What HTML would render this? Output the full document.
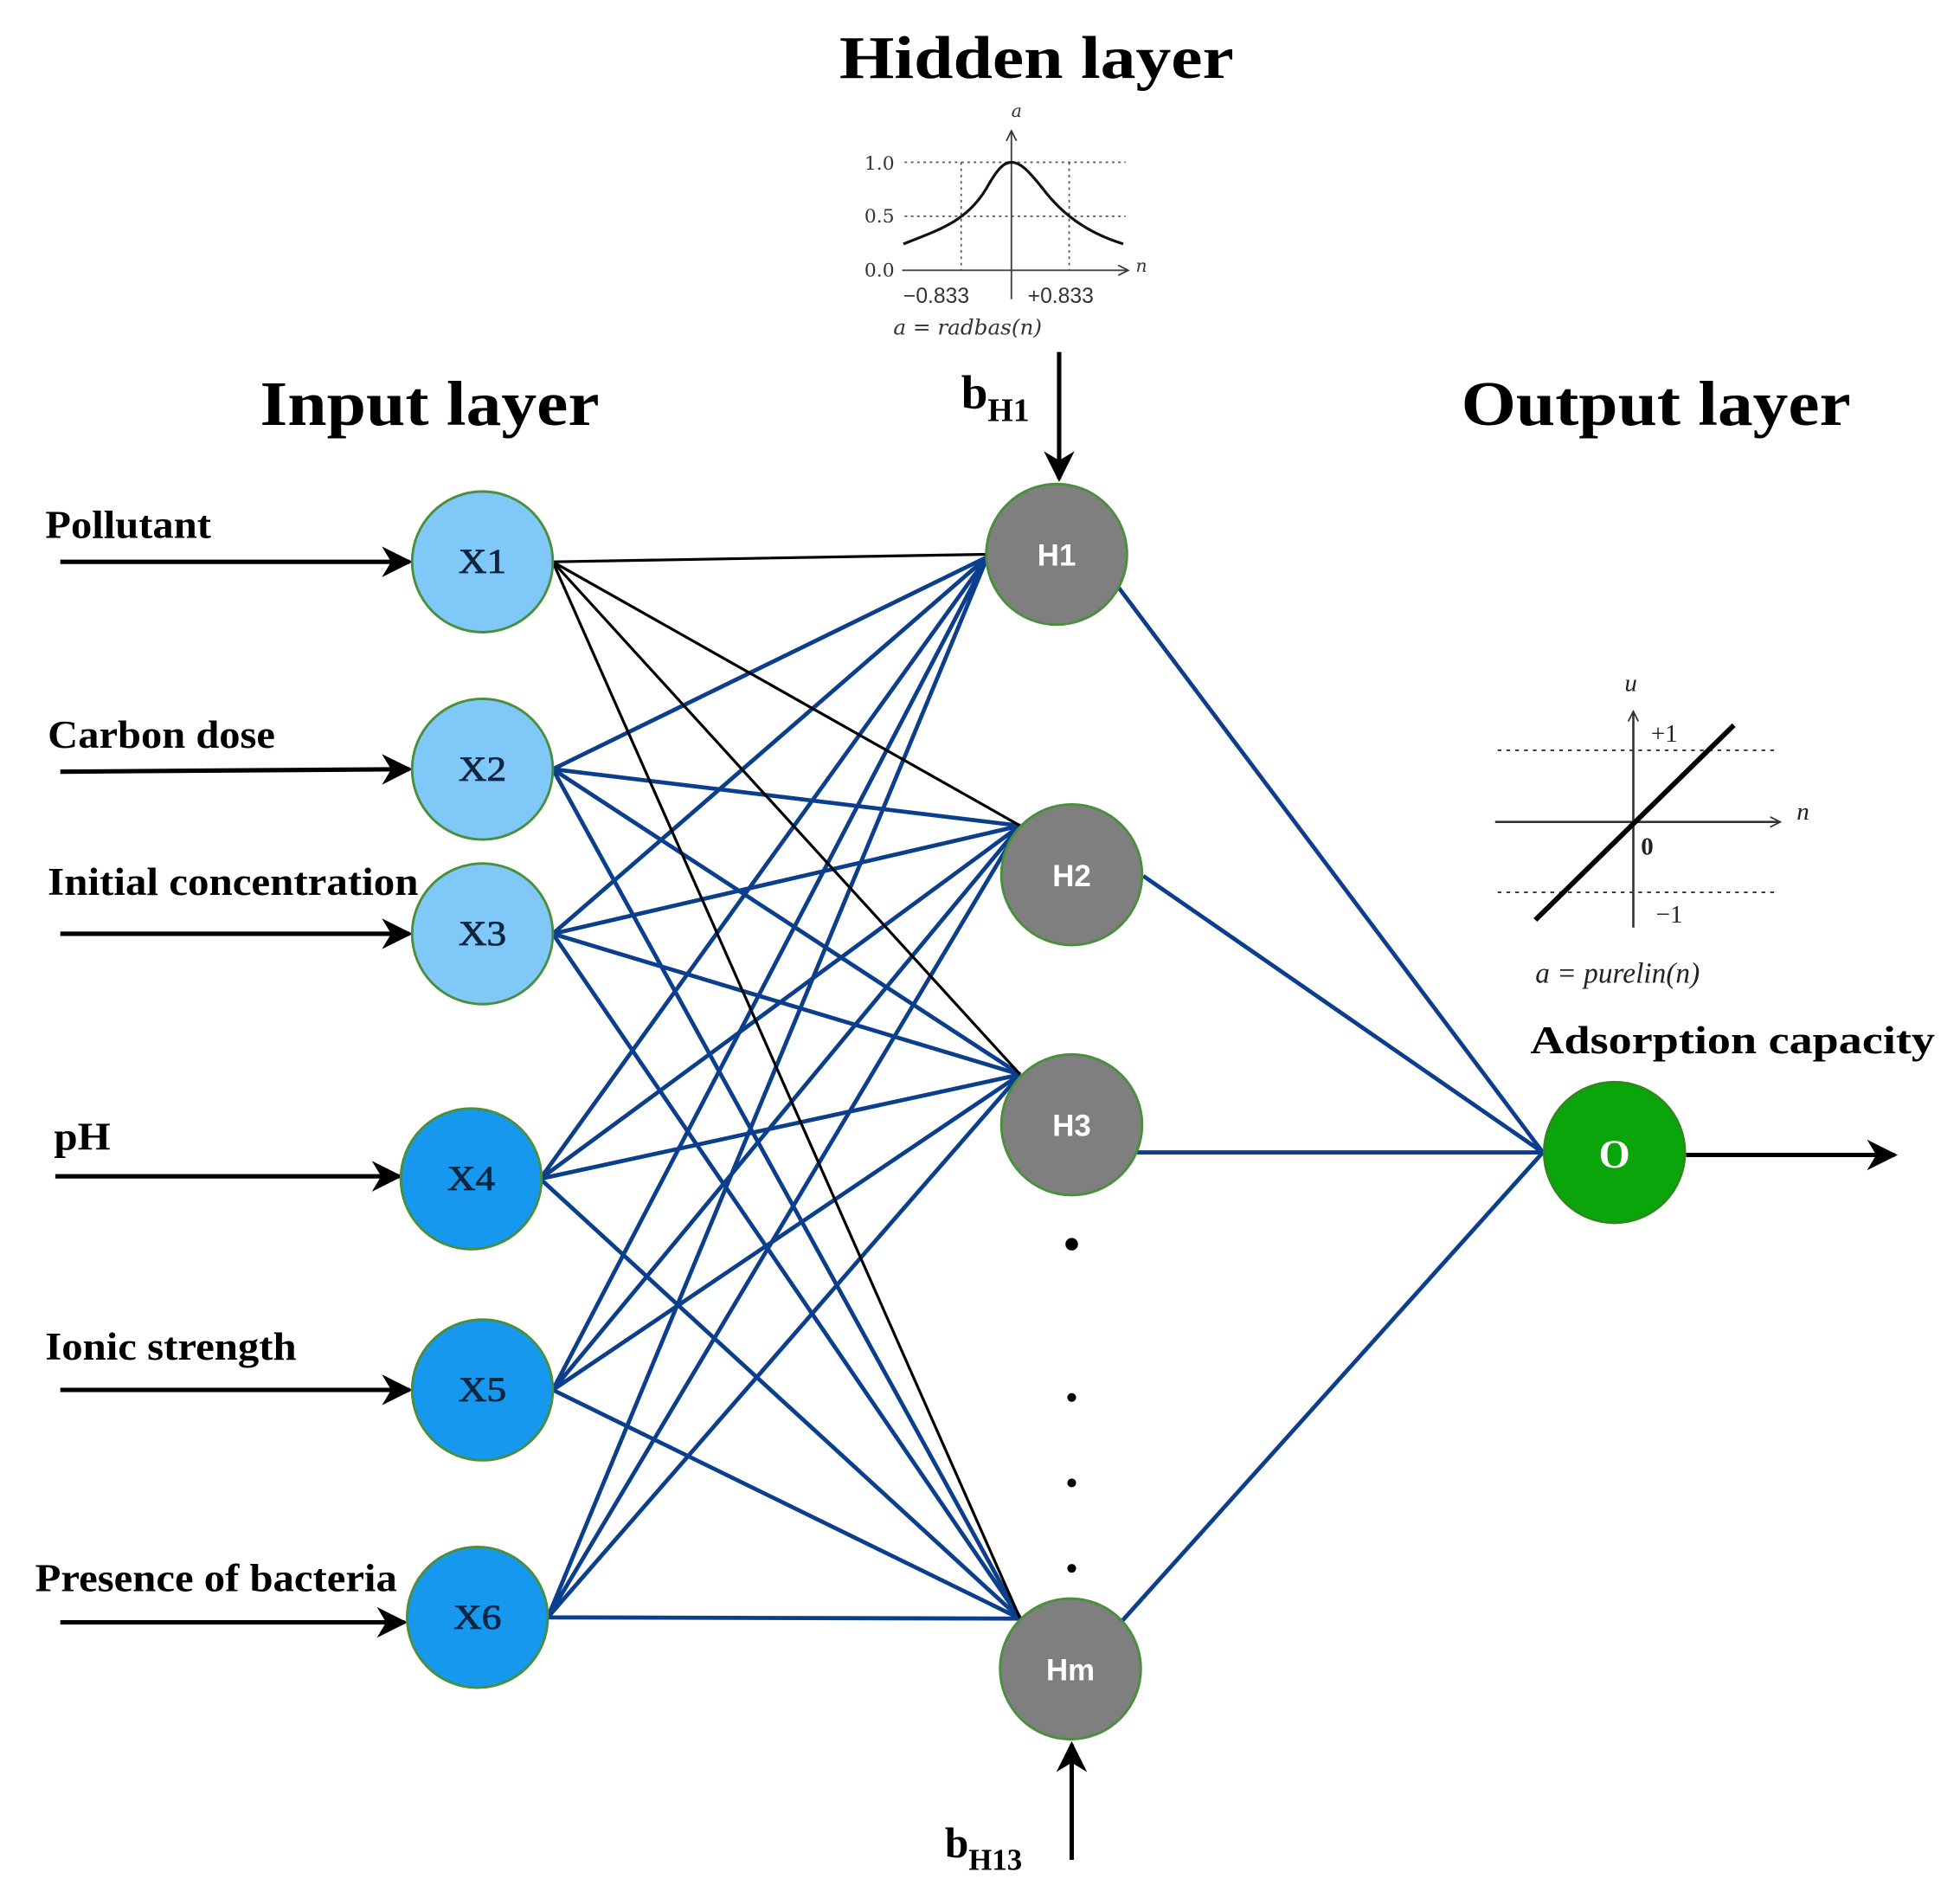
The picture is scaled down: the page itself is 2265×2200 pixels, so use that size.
<!DOCTYPE html>
<html><head><meta charset="utf-8"><style>html,body{margin:0;padding:0;background:#fff}svg{display:block}</style></head>
<body>
<svg width="2265" height="2200" viewBox="0 0 1560 1515" xmlns="http://www.w3.org/2000/svg" font-family="'Liberation Serif', serif">
<defs>
<marker id="ah" viewBox="0 0 10 10" refX="9" refY="5" markerWidth="7" markerHeight="7" orient="auto" markerUnits="strokeWidth"><path d="M0,0 L10,5 L0,10 L3,5 z" fill="#000"/></marker>
<marker id="sa" viewBox="0 0 10 10" refX="9" refY="5" markerWidth="10" markerHeight="10" orient="auto" markerUnits="userSpaceOnUse"><path d="M1,1 L9,5 L1,9" fill="none" stroke="#333" stroke-width="1.2"/></marker>
</defs>
<rect width="1560" height="1515" fill="#fff"/>

<text x="668" y="62" font-size="48" font-weight="bold" textLength="314" lengthAdjust="spacingAndGlyphs">Hidden layer</text>
<text x="207" y="338" font-size="50" font-weight="bold" textLength="270" lengthAdjust="spacingAndGlyphs">Input layer</text>
<text x="1163" y="338" font-size="50" font-weight="bold" textLength="310" lengthAdjust="spacingAndGlyphs">Output layer</text>

<g stroke="#555" stroke-width="1.2" stroke-dasharray="2,3" fill="none">
<line x1="720" y1="129" x2="896" y2="129"/>
<line x1="720" y1="172" x2="896" y2="172"/>
<line x1="765" y1="129" x2="765" y2="215"/>
<line x1="851" y1="129" x2="851" y2="215"/>
</g>
<line x1="718" y1="215" x2="898" y2="215" stroke="#444" stroke-width="1.3" marker-end="url(#sa)"/>
<line x1="805" y1="238" x2="805" y2="104" stroke="#444" stroke-width="1.3" marker-end="url(#sa)"/>
<path d="M719,194 C750,182 770,175 785,150 C795,132 800,129 805,129 C812,129 818,135 830,150 C845,170 865,185 894,194" fill="none" stroke="#111" stroke-width="2.2"/>
<g font-family="'DejaVu Serif', serif" font-size="15" fill="#333">
<text x="688" y="135">1.0</text>
<text x="688" y="177">0.5</text>
<text x="688" y="220">0.0</text>
<text x="719" y="241" font-family="'Liberation Sans', sans-serif" font-size="17">−0.833</text>
<text x="818" y="241" font-family="'Liberation Sans', sans-serif" font-size="17">+0.833</text>
<text x="805" y="93" font-style="italic" font-size="14">a</text>
<text x="904" y="216" font-style="italic" font-size="14">n</text>
<text x="711" y="266" font-style="italic" font-size="17">a = radbas(n)</text>
</g>

<line x1="843" y1="280" x2="843" y2="381" stroke="#000" stroke-width="3.5" marker-end="url(#ah)"/>
<text x="765" y="325" font-size="38" font-weight="bold">b<tspan font-size="26" dy="10">H1</tspan></text>
<line x1="853" y1="1480" x2="853" y2="1388" stroke="#000" stroke-width="3.5" marker-end="url(#ah)"/>
<text x="752" y="1478" font-size="34" font-weight="bold">b<tspan font-size="24" dy="10">H13</tspan></text>

<g stroke="#333" stroke-width="1.3" stroke-dasharray="3,4" fill="none">
<line x1="1192" y1="597" x2="1415" y2="597"/>
<line x1="1192" y1="710" x2="1415" y2="710"/>
</g>
<line x1="1190" y1="654" x2="1417" y2="654" stroke="#333" stroke-width="1.8" marker-end="url(#sa)"/>
<line x1="1300" y1="738" x2="1300" y2="566" stroke="#333" stroke-width="1.8" marker-end="url(#sa)"/>
<line x1="1222" y1="732" x2="1380" y2="577" stroke="#000" stroke-width="4"/>
<g font-size="20" fill="#222">
<text x="1293" y="550" font-style="italic">u</text>
<text x="1314" y="590">+1</text>
<text x="1430" y="652" font-style="italic">n</text>
<text x="1306" y="680" font-weight="bold">0</text>
<text x="1318" y="734">−1</text>
<text x="1222" y="782" font-style="italic" font-size="23">a = purelin(n)</text>
</g>

<g stroke="#0b3f8c" stroke-width="3.3" fill="none">
<path d="M440,612 L786,443 M440,612 L812,657 M440,612 L812,855 M440,612 L812,1288"/>
<path d="M440,743 L786,443 M440,743 L812,657 M440,743 L812,855 M440,743 L812,1288"/>
<path d="M430,938 L786,443 M430,938 L812,657 M430,938 L812,855 M430,938 L812,1288"/>
<path d="M440,1106 L786,443 M440,1106 L812,657 M440,1106 L812,855 M440,1106 L812,1288"/>
<path d="M436,1287 L786,443 M436,1287 L812,657 M436,1287 L812,855 M436,1287 L812,1288"/>
<path d="M890,467 L1228,917 M910,697 L1228,917 M905,917 L1228,917 M893,1290 L1228,917"/>
</g>
<g stroke="#000" stroke-width="2.2" fill="none">
<path d="M440,447 L786,441 M440,447 L812,657 M440,447 L812,855 M440,447 L812,1288"/>
</g>

<g stroke="#000" stroke-width="3.5" marker-end="url(#ah)">
<line x1="48" y1="447" x2="326" y2="447"/>
<line x1="48" y1="614" x2="326" y2="612"/>
<line x1="48" y1="743" x2="326" y2="743"/>
<line x1="44" y1="936" x2="318" y2="936"/>
<line x1="48" y1="1106" x2="326" y2="1106"/>
<line x1="48" y1="1291" x2="322" y2="1291"/>
<line x1="1342" y1="919" x2="1508" y2="919"/>
</g>

<g font-size="31" font-weight="bold">
<text x="36" y="428" textLength="132" lengthAdjust="spacingAndGlyphs">Pollutant</text>
<text x="38" y="595" textLength="181" lengthAdjust="spacingAndGlyphs">Carbon dose</text>
<text x="38" y="712" textLength="295" lengthAdjust="spacingAndGlyphs">Initial concentration</text>
<text x="43" y="915" textLength="45" lengthAdjust="spacingAndGlyphs">pH</text>
<text x="36" y="1082" textLength="200" lengthAdjust="spacingAndGlyphs">Ionic strength</text>
<text x="28" y="1266" textLength="288" lengthAdjust="spacingAndGlyphs">Presence of bacteria</text>
<text x="1218" y="838" textLength="322" lengthAdjust="spacingAndGlyphs">Adsorption capacity</text>
</g>

<g stroke="#4a8f3c" stroke-width="2">
<ellipse cx="384" cy="447" rx="56" ry="56" fill="#80c8f8"/>
<ellipse cx="384" cy="612" rx="56" ry="56" fill="#80c8f8"/>
<ellipse cx="384" cy="743" rx="56" ry="56" fill="#80c8f8"/>
<ellipse cx="375" cy="938" rx="56" ry="56" fill="#1598ee"/>
<ellipse cx="384" cy="1106" rx="56" ry="56" fill="#1598ee"/>
<ellipse cx="380" cy="1287" rx="56" ry="56" fill="#1598ee"/>
<circle cx="841" cy="441" r="56" fill="#7f7f7f"/>
<circle cx="853" cy="696" r="56" fill="#7f7f7f"/>
<circle cx="853" cy="895" r="56" fill="#7f7f7f"/>
<circle cx="852" cy="1328" r="56" fill="#7f7f7f"/>
<circle cx="1285" cy="917" r="56" fill="#0aa50a" stroke="#2c8a1c"/>
</g>
<g font-size="28" fill="#0d2540" text-anchor="middle" stroke="#0d2540" stroke-width="0.6">
<text x="384" y="456" textLength="38" lengthAdjust="spacingAndGlyphs">X1</text>
<text x="384" y="621" textLength="38" lengthAdjust="spacingAndGlyphs">X2</text>
<text x="384" y="752" textLength="38" lengthAdjust="spacingAndGlyphs">X3</text>
<text x="375" y="947" textLength="38" lengthAdjust="spacingAndGlyphs">X4</text>
<text x="384" y="1115" textLength="38" lengthAdjust="spacingAndGlyphs">X5</text>
<text x="380" y="1296" textLength="38" lengthAdjust="spacingAndGlyphs">X6</text>
</g>
<g font-family="'Liberation Sans', sans-serif" font-weight="bold" font-size="24" fill="#fff" text-anchor="middle">
<text x="841" y="450">H1</text>
<text x="853" y="705">H2</text>
<text x="853" y="904">H3</text>
<text x="852" y="1337">Hm</text>
</g>
<text x="1285" y="929" font-size="32" font-weight="bold" fill="#fff" text-anchor="middle">O</text>

<g fill="#000">
<circle cx="853" cy="990" r="5"/>
<circle cx="853" cy="1112" r="3.5"/>
<circle cx="853" cy="1180" r="3.5"/>
<circle cx="853" cy="1248" r="3.5"/>
</g>
</svg>
</body></html>
